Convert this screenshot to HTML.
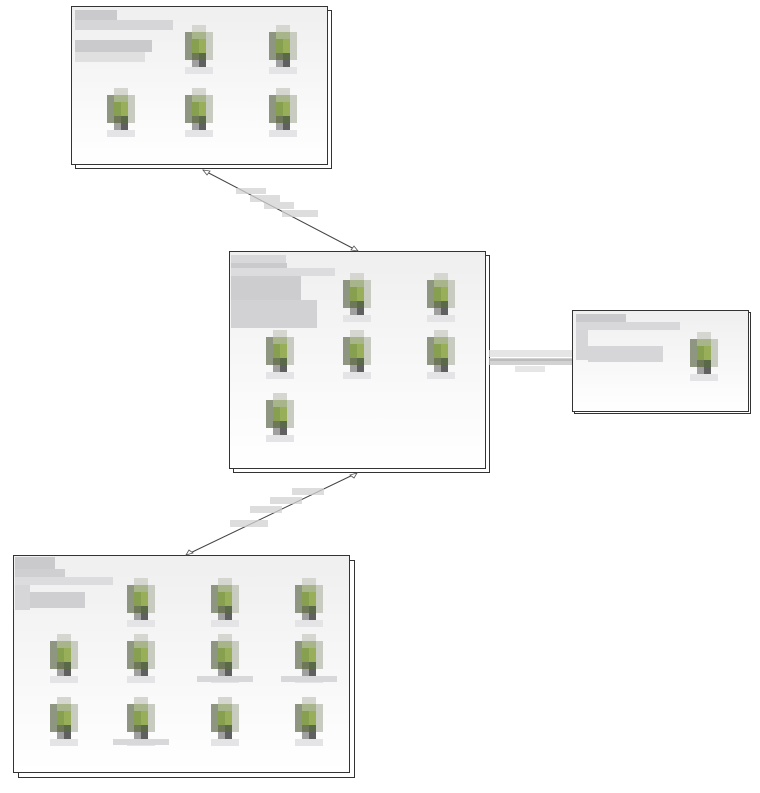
<!DOCTYPE html>
<html><head><meta charset="utf-8"><style>
html,body{margin:0;padding:0;background:#fff;width:760px;height:793px;overflow:hidden;font-family:"Liberation Sans",sans-serif}
</style></head><body>
<svg width="760" height="793" viewBox="0 0 760 793" xmlns="http://www.w3.org/2000/svg">
<defs>
<linearGradient id="g" x1="0" y1="0" x2="0" y2="1"><stop offset="0" stop-color="#efefef"/><stop offset="1" stop-color="#ffffff"/></linearGradient>
<symbol id="ic" width="28" height="50" viewBox="0 0 28 50">
<rect x="7" y="0" width="14" height="7" fill="#d6d6d0"/>
<rect x="0" y="7" width="28" height="28" fill="#c8ccc0"/>
<rect x="0" y="7" width="7" height="28" fill="#8e9682"/>
<rect x="7" y="7" width="14" height="7" fill="#a8b48a"/>
<rect x="7" y="14" width="14" height="14" fill="#86a050"/>
<rect x="14" y="14" width="7" height="14" fill="#98ae58"/>
<rect x="7" y="28" width="7" height="7" fill="#6e7858"/>
<rect x="14" y="28" width="7" height="7" fill="#5a6a48"/>
<rect x="7" y="35" width="14" height="7" fill="#a0a0a0"/>
<rect x="14" y="35" width="7" height="7" fill="#606060"/>
<rect x="0" y="42" width="28" height="7" fill="#e4e4e6"/>
</symbol>
</defs>
<g stroke="#333" stroke-width="1">
<rect x="75.5" y="10.5" width="256" height="158" fill="#fff"/>
<rect x="71.5" y="6.5" width="256" height="158" fill="url(#g)"/>
<rect x="233.5" y="255.5" width="256" height="217" fill="#fff"/>
<rect x="229.5" y="251.5" width="256" height="217" fill="url(#g)"/>
<rect x="574.5" y="312.5" width="176" height="101" fill="#fff"/>
<rect x="572.5" y="310.5" width="176" height="101" fill="url(#g)"/>
<rect x="18.5" y="560.5" width="336" height="217" fill="#fff"/>
<rect x="13.5" y="555.5" width="336" height="217" fill="url(#g)"/>
</g>
<g stroke="#444" stroke-width="1" fill="none">
<line x1="203" y1="170" x2="358" y2="251"/>
<line x1="357" y1="473" x2="186" y2="555"/>
<line x1="489" y1="360" x2="572" y2="360"/>
</g>
<g fill="#fff" stroke="#555" stroke-width="0.8">
<path d="M203 170 l7 1 l-3 4 z"/><path d="M358 251 l-7 -1 l3 -4 z"/>
<path d="M357 473 l-3 5 l-4 -3 z"/><path d="M186 555 l3 -5 l4 3 z"/>
</g>
<g fill="#d2d2d2" opacity="0.75">
<rect x="236" y="188" width="30" height="6"/><rect x="250" y="195" width="30" height="7"/><rect x="264" y="202" width="30" height="7"/><rect x="282" y="210" width="36" height="7"/>
<rect x="292" y="488" width="32" height="7"/><rect x="270" y="497" width="32" height="7"/><rect x="250" y="506" width="32" height="7"/><rect x="230" y="520" width="38" height="7"/>
<rect x="489" y="350" width="83" height="7" fill="#ddd"/><rect x="489" y="358" width="83" height="7" fill="#c4c4c4"/><rect x="515" y="366" width="30" height="6" fill="#dedede"/>
</g>
<g fill="#cacacd">
<rect x="75" y="10" width="42" height="10"/><rect x="75" y="20" width="98" height="10" fill="#d6d6d9"/><rect x="75" y="40" width="77" height="12"/><rect x="75" y="52" width="70" height="10" fill="#e0e0e0"/>
<rect x="231" y="255" width="55" height="8" fill="#d8d8da"/><rect x="231" y="263" width="56" height="12"/><rect x="231" y="268" width="104" height="8" fill="#dcdcde"/>
<rect x="231" y="276" width="70" height="40" fill="#cdcdd0"/><rect x="231" y="300" width="86" height="28" fill="#d2d2d5"/>
<rect x="576" y="314" width="50" height="8"/><rect x="576" y="322" width="104" height="8" fill="#d8d8da"/><rect x="576" y="330" width="12" height="30" fill="#d6d6d8"/><rect x="588" y="346" width="75" height="16" fill="#d6d6d8"/>
<rect x="15" y="557" width="40" height="12"/><rect x="15" y="569" width="50" height="8" fill="#cfcfd2"/><rect x="15" y="577" width="98" height="8" fill="#dcdcde"/><rect x="15" y="585" width="15" height="25" fill="#d6d6d8"/><rect x="30" y="592" width="55" height="16" fill="#cfcfd2"/>
</g>
<use href="#ic" x="185" y="25" width="28" height="50"/><use href="#ic" x="269" y="25" width="28" height="50"/>
<use href="#ic" x="107" y="88" width="28" height="50"/><use href="#ic" x="185" y="88" width="28" height="50"/><use href="#ic" x="269" y="88" width="28" height="50"/>
<use href="#ic" x="343" y="273" width="28" height="50"/><use href="#ic" x="427" y="273" width="28" height="50"/>
<use href="#ic" x="266" y="330" width="28" height="50"/><use href="#ic" x="343" y="330" width="28" height="50"/><use href="#ic" x="427" y="330" width="28" height="50"/>
<use href="#ic" x="266" y="393" width="28" height="50"/>
<use href="#ic" x="690" y="332" width="28" height="50"/>
<use href="#ic" x="127" y="578" width="28" height="50"/><use href="#ic" x="211" y="578" width="28" height="50"/><use href="#ic" x="295" y="578" width="28" height="50"/>
<use href="#ic" x="50" y="634" width="28" height="50"/><use href="#ic" x="127" y="634" width="28" height="50"/><use href="#ic" x="211" y="634" width="28" height="50"/><use href="#ic" x="295" y="634" width="28" height="50"/>
<use href="#ic" x="50" y="697" width="28" height="50"/><use href="#ic" x="127" y="697" width="28" height="50"/><use href="#ic" x="211" y="697" width="28" height="50"/><use href="#ic" x="295" y="697" width="28" height="50"/>
<g fill="#d8d8da"><rect x="197" y="676" width="56" height="6"/><rect x="281" y="676" width="56" height="6"/><rect x="113" y="739" width="56" height="6"/></g>
</svg>
</body></html>
